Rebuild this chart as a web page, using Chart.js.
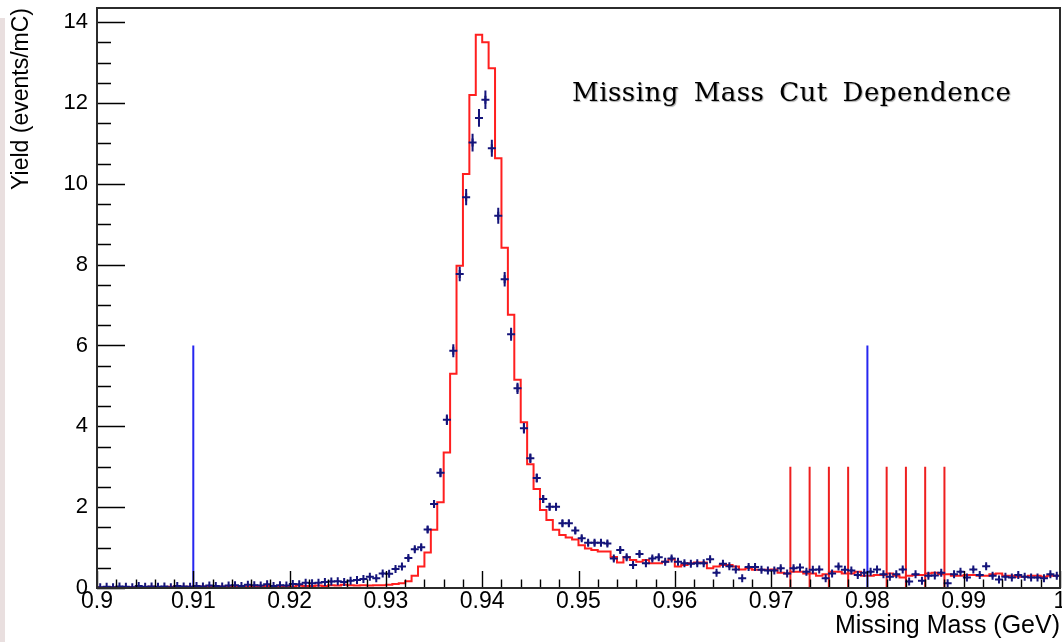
<!DOCTYPE html>
<html>
<head>
<meta charset="utf-8">
<script src="https://cdn.jsdelivr.net/npm/chart.js@4.4.1/dist/chart.umd.min.js"></script>
<style>
  html, body { margin: 0; padding: 0; background: #fff; }
  #wrap { position: relative; width: 1062px; height: 642px; overflow: hidden; }
  #edge { position: absolute; left: 0; top: 18px; width: 5px; height: 624px; background: #e9dfdf; }
  #c { position: absolute; left: 0; top: 0; }
</style>
</head>
<body>
<div id="wrap">
  <div id="edge"></div>
  <canvas id="c" width="1062" height="642"></canvas>
</div>
<script>
// Histogram binning: 150 bins between 0.9 and 1.0 GeV
const binLow = 0.9;
const binHigh = 1.0;
const nBins = 150;

// Measured yield per bin (events/mC) with its uncertainty
const dataYield = [
  0.02,0.03,0.02,0.04,0.03,0.02,0.05,0.03,0.04,0.03,
  0.04,0.02,0.05,0.04,0.03,0.05,0.04,0.06,0.05,0.04,
  0.06,0.07,0.05,0.08,0.07,0.06,0.09,0.05,0.07,0.06,
  0.10,0.09,0.13,0.12,0.13,0.15,0.16,0.17,0.15,0.18,
  0.20,0.22,0.28,0.24,0.36,0.35,0.47,0.53,0.74,0.96,
  1.01,1.45,2.08,2.85,4.16,5.87,7.77,9.67,11.02,11.63,
  12.08,10.88,9.21,7.64,6.28,4.94,3.95,3.21,2.72,2.20,
  2.01,2.01,1.60,1.60,1.42,1.23,1.12,1.12,1.12,1.10,
  0.73,0.94,0.76,0.57,0.84,0.61,0.73,0.76,0.65,0.73,
  0.65,0.61,0.60,0.61,0.61,0.71,0.38,0.60,0.54,0.46,
  0.24,0.52,0.52,0.45,0.43,0.43,0.49,0.36,0.49,0.51,
  0.40,0.45,0.46,0.24,0.36,0.53,0.45,0.43,0.32,0.38,
  0.40,0.46,0.34,0.28,0.34,0.46,0.16,0.34,0.18,0.30,
  0.31,0.38,0.12,0.34,0.40,0.26,0.46,0.32,0.54,0.30,
  0.21,0.28,0.26,0.32,0.28,0.26,0.26,0.24,0.34,0.30
];
const dataError = [
  0.01,0.01,0.01,0.01,0.01,0.01,0.01,0.01,0.01,0.01,
  0.01,0.01,0.01,0.01,0.01,0.01,0.01,0.02,0.01,0.01,
  0.02,0.02,0.01,0.02,0.02,0.02,0.02,0.01,0.02,0.02,
  0.02,0.02,0.02,0.02,0.02,0.03,0.03,0.03,0.03,0.03,
  0.03,0.03,0.03,0.03,0.04,0.04,0.04,0.05,0.06,0.06,
  0.07,0.08,0.09,0.11,0.13,0.16,0.18,0.20,0.22,0.22,
  0.23,0.21,0.20,0.18,0.16,0.14,0.13,0.12,0.11,0.10,
  0.09,0.09,0.08,0.08,0.08,0.07,0.07,0.07,0.07,0.07,
  0.06,0.06,0.06,0.05,0.06,0.05,0.06,0.06,0.05,0.06,
  0.05,0.05,0.05,0.05,0.05,0.05,0.04,0.05,0.05,0.04,
  0.03,0.05,0.05,0.04,0.04,0.04,0.05,0.04,0.05,0.05,
  0.04,0.04,0.04,0.03,0.04,0.05,0.04,0.04,0.04,0.04,
  0.04,0.04,0.04,0.03,0.04,0.04,0.03,0.04,0.03,0.04,
  0.04,0.04,0.02,0.04,0.04,0.03,0.04,0.04,0.05,0.04,
  0.03,0.03,0.03,0.04,0.03,0.03,0.03,0.03,0.04,0.04
];

// Simulated yield per bin (events/mC)
const simYield = [
  0.01,0.01,0.02,0.01,0.02,0.02,0.01,0.02,0.03,0.02,
  0.02,0.03,0.02,0.03,0.03,0.02,0.04,0.03,0.03,0.04,
  0.03,0.04,0.03,0.04,0.05,0.04,0.05,0.04,0.05,0.05,
  0.04,0.06,0.05,0.05,0.06,0.05,0.07,0.06,0.08,0.07,
  0.06,0.07,0.06,0.07,0.07,0.08,0.10,0.12,0.17,0.30,
  0.53,0.88,1.44,2.12,3.35,5.30,7.97,10.24,12.20,13.69,
  13.50,12.86,10.63,8.42,6.76,5.15,4.10,3.06,2.45,1.93,
  1.68,1.44,1.31,1.25,1.20,1.06,0.98,0.94,0.90,0.90,
  0.77,0.63,0.77,0.69,0.65,0.69,0.61,0.61,0.65,0.71,
  0.53,0.57,0.61,0.63,0.63,0.49,0.53,0.57,0.57,0.53,
  0.46,0.49,0.45,0.45,0.45,0.46,0.38,0.36,0.40,0.40,
  0.36,0.36,0.30,0.34,0.40,0.40,0.36,0.36,0.40,0.30,
  0.30,0.32,0.32,0.36,0.30,0.26,0.30,0.32,0.32,0.36,
  0.38,0.34,0.34,0.30,0.30,0.32,0.32,0.30,0.30,0.34,
  0.36,0.30,0.30,0.28,0.28,0.30,0.30,0.28,0.30,0.30
];

// Cut markers: nominal window (blue) and the varied upper cuts (red)
const nominalCuts = [0.91, 0.98];
const nominalCutHeight = 6;
const variedCuts = [0.972, 0.974, 0.976, 0.978, 0.982, 0.984, 0.986, 0.988];
const variedCutHeight = 3;

// Axis ticks and labels
const xTickValues = [0.9, 0.91, 0.92, 0.93, 0.94, 0.95, 0.96, 0.97, 0.98, 0.99, 1.0];
const xTickLabels = ['0.9', '0.91', '0.92', '0.93', '0.94', '0.95', '0.96', '0.97', '0.98', '0.99', '1'];
const yTickValues = [0, 2, 4, 6, 8, 10, 12, 14];
const yTickLabels = ['0', '2', '4', '6', '8', '10', '12', '14'];
const xMinorStep = 0.002;
const yMinorStep = 0.5;
const yMax = 14.35;

const chartTitle = 'Missing Mass Cut Dependence';
const titleAt = { x: 0.94933, y: 12.04 };

// ---- build library datasets from the arrays ----
const binWidth = (binHigh - binLow) / nBins;
const centers = dataYield.map((_, i) => binLow + (i + 0.5) * binWidth);

const markerPoints = dataYield.map((v, i) => ({ x: centers[i], y: v }));
const errorSegments = [];
dataYield.forEach((v, i) => {
  errorSegments.push({ x: centers[i], y: v - dataError[i] });
  errorSegments.push({ x: centers[i], y: v + dataError[i] });
  errorSegments.push({ x: centers[i], y: null });
});
const simSteps = simYield.map((v, i) => ({ x: binLow + i * binWidth, y: v }));
simSteps.push({ x: binHigh, y: simYield[simYield.length - 1] });

function cutSegments(positions, height) {
  const pts = [];
  positions.forEach(p => {
    pts.push({ x: p, y: 0 });
    pts.push({ x: p, y: height });
    pts.push({ x: p, y: null });
  });
  return pts;
}

const sansFont = '"Liberation Sans", Arial, Helvetica, sans-serif';

// Frame, inward ROOT-style ticks and the in-pad caption
const padDecorations = {
  id: 'padDecorations',
  afterDatasetsDraw(chart) {
    const { ctx, chartArea: a, scales: { x, y } } = chart;
    ctx.save();
    ctx.strokeStyle = '#000';
    ctx.lineWidth = 1.4;
    ctx.beginPath();
    const nx = Math.round((binHigh - binLow) / xMinorStep);
    for (let i = 0; i <= nx; i++) {
      const px = Math.round(x.getPixelForValue(binLow + i * xMinorStep)) + 0.5;
      const len = (i % 5 === 0) ? 17 : 8.5;
      ctx.moveTo(px, a.bottom);
      ctx.lineTo(px, a.bottom - len);
    }
    const ny = Math.floor(yMax / yMinorStep);
    for (let j = 0; j <= ny; j++) {
      const py = Math.round(y.getPixelForValue(j * yMinorStep)) + 0.5;
      const len = (j % 4 === 0) ? 28 : 14;
      ctx.moveTo(a.left, py);
      ctx.lineTo(a.left + len, py);
    }
    ctx.stroke();

    ctx.strokeStyle = '#2b2b2b';
    ctx.lineWidth = 2;
    ctx.strokeRect(a.left, a.top, a.right - a.left, a.bottom - a.top);

    ctx.font = '26px "DejaVu Serif", serif';
    ctx.letterSpacing = '0.5px';
    ctx.wordSpacing = '6px';
    ctx.fillStyle = '#000';
    ctx.textBaseline = 'alphabetic';
    ctx.textAlign = 'left';
    ctx.shadowColor = 'rgba(0,0,0,0.35)';
    ctx.shadowOffsetX = 1;
    ctx.shadowOffsetY = 1;
    ctx.shadowBlur = 1;
    ctx.fillText(chartTitle, x.getPixelForValue(titleAt.x), y.getPixelForValue(titleAt.y));
    ctx.restore();
  }
};

new Chart(document.getElementById('c'), {
  type: 'scatter',
  data: {
    datasets: [
      {
        label: 'simulation',
        type: 'line',
        data: simSteps,
        stepped: 'before',
        borderColor: '#ff1f1f',
        borderWidth: 2,
        pointRadius: 0,
        fill: false,
        order: 3
      },
      {
        label: 'nominal cut',
        type: 'line',
        data: cutSegments(nominalCuts, nominalCutHeight),
        borderColor: '#2626f0',
        borderWidth: 2,
        pointRadius: 0,
        spanGaps: false,
        order: 2
      },
      {
        label: 'varied cuts',
        type: 'line',
        data: cutSegments(variedCuts, variedCutHeight),
        borderColor: '#ee1f1f',
        borderWidth: 2,
        pointRadius: 0,
        spanGaps: false,
        order: 2
      },
      {
        label: 'data error',
        type: 'line',
        data: errorSegments,
        borderColor: '#14147a',
        borderWidth: 2,
        pointRadius: 0,
        spanGaps: false,
        order: 1
      },
      {
        label: 'data',
        data: markerPoints,
        pointStyle: 'cross',
        pointRadius: 4,
        pointBorderWidth: 2,
        borderColor: '#14147a',
        backgroundColor: '#14147a',
        order: 0
      }
    ]
  },
  options: {
    responsive: false,
    animation: false,
    devicePixelRatio: 1,
    layout: { autoPadding: false, padding: { left: 0, right: 2, top: 8, bottom: 0 } },
    plugins: {
      legend: { display: false },
      tooltip: { enabled: false },
      title: { display: false }
    },
    scales: {
      x: {
        type: 'linear',
        min: binLow,
        max: binHigh,
        grid: { display: false, drawTicks: false },
        border: { display: false },
        afterBuildTicks(scale) { scale.ticks = xTickValues.map(v => ({ value: v })); },
        afterFit(scale) { scale.height = 54; scale.paddingLeft = 0; scale.paddingRight = 0; },
        ticks: {
          autoSkip: false,
          maxRotation: 0,
          padding: 0,
          color: '#000',
          font: { family: sansFont, size: 23 },
          callback: (v, i) => xTickLabels[i]
        },
        title: {
          display: true,
          text: 'Missing Mass (GeV)',
          align: 'end',
          color: '#000',
          font: { family: sansFont, size: 25 },
          padding: { top: 0, bottom: 1 }
        }
      },
      y: {
        type: 'linear',
        min: 0,
        max: yMax,
        grid: { display: false, drawTicks: false },
        border: { display: false },
        afterBuildTicks(scale) { scale.ticks = yTickValues.map(v => ({ value: v })); },
        afterFit(scale) { scale.width = 97; scale.paddingTop = 0; scale.paddingBottom = 0; },
        ticks: {
          autoSkip: false,
          padding: 9,
          color: '#000',
          font: { family: sansFont, size: 22 },
          callback: (v, i) => yTickLabels[i]
        },
        title: {
          display: true,
          text: 'Yield (events/mC)',
          align: 'end',
          color: '#000',
          font: { family: sansFont, size: 23 },
          padding: { top: 8, bottom: 0 }
        }
      }
    }
  },
  plugins: [padDecorations]
});
</script>
</body>
</html>
